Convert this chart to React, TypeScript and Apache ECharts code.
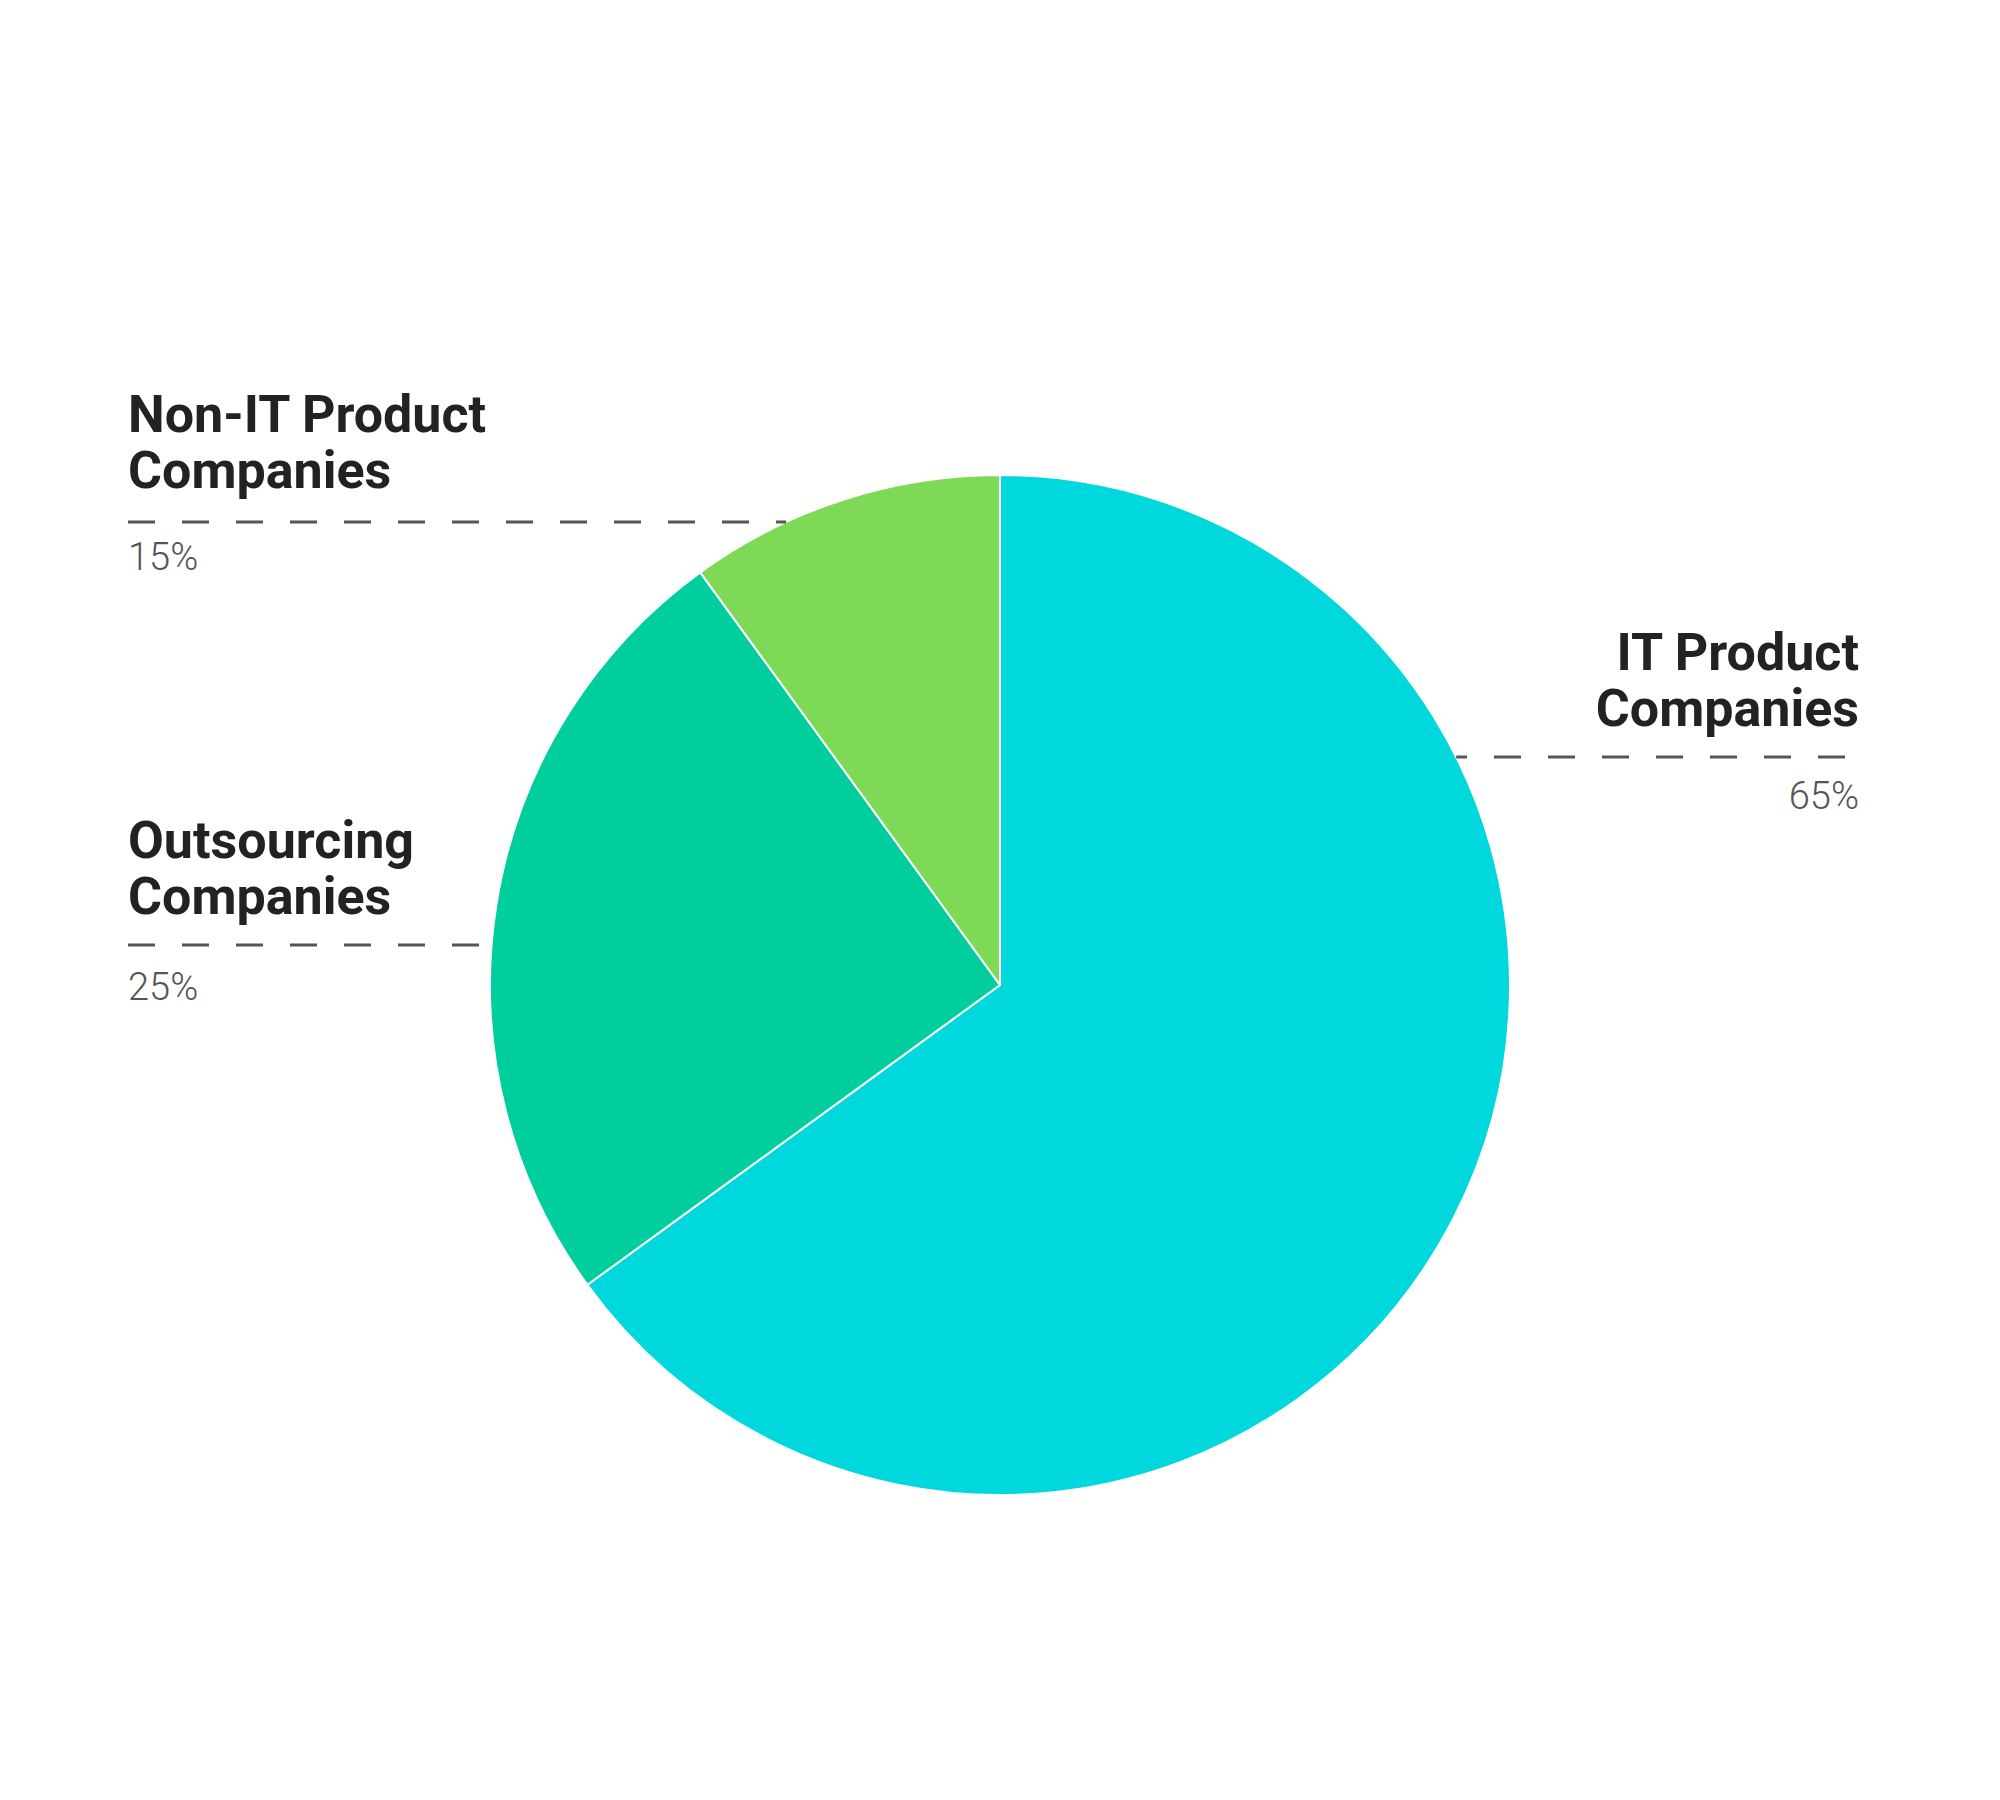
import React, { useEffect, useRef } from "react";
import * as echarts from "echarts";

// ---- data ----
const categories = ["IT Product Companies", "Outsourcing Companies", "Non-IT Product Companies"];
const sliceValues = [65, 25, 10]; // slice sizes as drawn
const shareLabels = ["65%", "25%", "15%"]; // percentages as printed
const nameLines = [
  ["IT Product", "Companies"],
  ["Outsourcing", "Companies"],
  ["Non-IT Product", "Companies"],
];
const sliceColors = ["#00D8DE", "#00CF9D", "#7ED957"];

// ---- layout ----
const CX = 1000;
const CY = 985;
const R = 510;
const labelLayout = [
  { side: "right", x: 1859, lineEnd: 1845, dashY: 757, b1: 670, b2: 726, pb: 809 },
  { side: "left", x: 128, lineEnd: 128, dashY: 945, b1: 858, b2: 914, pb: 1000 },
  { side: "left", x: 128, lineEnd: 128, dashY: 522, b1: 432, b2: 488, pb: 570 },
];
const NAME_FS = 52;
const PCT_FS = 38;

export default function App() {
  const ref = useRef<HTMLDivElement>(null);
  useEffect(() => {
    document.body.style.margin = "0";
    const chart = echarts.init(ref.current!, null, { renderer: "svg" });
    const graphics: any[] = [];
    labelLayout.forEach((L, i) => {
      const dy = L.dashY - CY;
      const dx = Math.sqrt(R * R - dy * dy);
      const edgeX = L.side === "left" ? CX - dx : CX + dx;
      const align = L.side === "left" ? "left" : "right";
      graphics.push({
        type: "line",
        shape: { x1: L.lineEnd, y1: L.dashY, x2: edgeX, y2: L.dashY },
        style: { stroke: "#555", lineWidth: 3, lineDash: [27, 27] },
        z: 10,
      });
      [L.b1, L.b2].forEach((b, k) => {
        graphics.push({
          type: "text",
          x: L.x,
          y: b - 0.342 * NAME_FS,
          style: {
            text: nameLines[i][k],
            fontFamily: "Roboto",
            fontWeight: "bold",
            fontSize: NAME_FS,
            fill: "#222",
            align,
            verticalAlign: "middle",
          },
        });
      });
      graphics.push({
        type: "text",
        x: L.x,
        y: L.pb - 0.342 * PCT_FS,
        style: {
          text: shareLabels[i],
          fontFamily: "Roboto",
          fontWeight: 300,
          fontSize: PCT_FS,
          fill: "#555",
          align,
          verticalAlign: "middle",
        },
      });
    });
    chart.setOption({
      animation: false,
      backgroundColor: "#fff",
      graphic: graphics,
      series: [
        {
          type: "pie",
          center: [CX, CY],
          radius: R,
          startAngle: 90,
          clockwise: true,
          label: { show: false },
          labelLine: { show: false },
          itemStyle: { borderColor: "#fff", borderWidth: 2 },
          emphasis: { disabled: true },
          data: categories.map((c, i) => ({
            name: c,
            value: sliceValues[i],
            itemStyle: { color: sliceColors[i] },
          })),
        },
      ],
    });
    return () => chart.dispose();
  }, []);
  return <div ref={ref} style={{ width: 2000, height: 1800 }} />;
}
